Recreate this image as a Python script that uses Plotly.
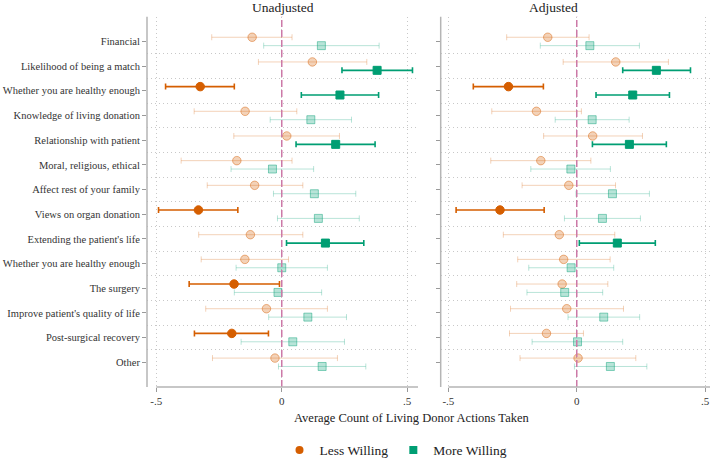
import numpy as np
import plotly.graph_objects as go

categories = ["Financial", "Likelihood of being a match", "Whether you are healthy enough",
              "Knowledge of living donation", "Relationship with patient", "Moral, religious, ethical",
              "Affect rest of your family", "Views on organ donation", "Extending the patient's life",
              "Whether you are healthy enough", "The surgery", "Improve patient's quality of life",
              "Post-surgical recovery", "Other"]

unadj_less_est = [-0.118, 0.122, -0.325, -0.146, 0.020, -0.179, -0.108, -0.332, -0.125, -0.147, -0.190, -0.061, -0.199, -0.027]
unadj_less_lo = [-0.279, -0.093, -0.463, -0.349, -0.191, -0.401, -0.297, -0.491, -0.331, -0.321, -0.369, -0.303, -0.348, -0.276]
unadj_less_hi = [0.041, 0.339, -0.189, 0.060, 0.230, 0.041, 0.084, -0.175, 0.084, 0.027, -0.009, 0.182, -0.053, 0.222]
unadj_more_est = [0.158, 0.380, 0.232, 0.116, 0.215, -0.037, 0.130, 0.146, 0.174, 0.000, -0.015, 0.104, 0.044, 0.161]
unadj_more_lo = [-0.072, 0.240, 0.078, -0.046, 0.057, -0.202, -0.033, -0.017, 0.019, -0.182, -0.189, -0.052, -0.162, -0.013]
unadj_more_hi = [0.388, 0.521, 0.386, 0.278, 0.372, 0.127, 0.295, 0.309, 0.327, 0.182, 0.159, 0.258, 0.250, 0.335]

adj_less_est = [-0.113, 0.152, -0.266, -0.157, 0.062, -0.140, -0.031, -0.299, -0.068, -0.051, -0.057, -0.039, -0.118, 0.005]
adj_less_lo = [-0.273, -0.053, -0.403, -0.331, -0.129, -0.335, -0.213, -0.470, -0.286, -0.230, -0.234, -0.258, -0.262, -0.221]
adj_less_hi = [0.048, 0.357, -0.130, 0.018, 0.256, 0.055, 0.151, -0.127, 0.148, 0.130, 0.121, 0.182, 0.026, 0.230]
adj_more_est = [0.051, 0.310, 0.218, 0.060, 0.205, -0.023, 0.139, 0.100, 0.158, -0.022, -0.047, 0.105, 0.003, 0.131]
adj_more_lo = [-0.142, 0.179, 0.075, -0.084, 0.061, -0.179, -0.003, -0.048, 0.010, -0.187, -0.194, -0.034, -0.174, -0.009]
adj_more_hi = [0.244, 0.443, 0.361, 0.204, 0.349, 0.131, 0.283, 0.248, 0.306, 0.144, 0.101, 0.245, 0.179, 0.273]

x_ticks = [-0.5, 0, 0.5]
x_ticklabels = ["-.5", "0", ".5"]
group_names = ["Less Willing", "More Willing"]

ORANGE = (213, 94, 0)
GREEN = (0, 158, 115)
FONT = "Liberation Serif, Times New Roman, serif"

def rgba(c, a):
    return "rgba(%d,%d,%d,%.2f)" % (c[0], c[1], c[2], a)

fig = go.Figure()
rows = np.arange(1, len(categories) + 1)

panels = [
    ("x", "y", [(unadj_less_est, unadj_less_lo, unadj_less_hi), (unadj_more_est, unadj_more_lo, unadj_more_hi)]),
    ("x2", "y2", [(adj_less_est, adj_less_lo, adj_less_hi), (adj_more_est, adj_more_lo, adj_more_hi)]),
]
styles = [(ORANGE, "circle", 8.5, -0.17), (GREEN, "square", 8, 0.17)]

for xa, ya, groups in panels:
    for (est, lo, hi), (col, sym, sz, off) in zip(groups, styles):
        est = np.array(est); lo = np.array(lo); hi = np.array(hi)
        sig = (lo > 0) | (hi < 0)
        for mask, faded in [(~sig, True), (sig, False)]:
            if not mask.any():
                continue
            a = 0.28 if faded else 1.0
            fig.add_trace(go.Scatter(
                x=est[mask], y=rows[mask] + off, xaxis=xa, yaxis=ya, mode="markers",
                marker=dict(symbol=sym, size=sz, color=rgba(col, a),
                            line=dict(color=rgba(col, 0.45 if faded else 1.0), width=1)),
                error_x=dict(type="data", symmetric=False, array=(hi - est)[mask],
                             arrayminus=(est - lo)[mask], color=rgba(col, 0.28 if faded else 1.0),
                             thickness=1.0 if faded else 1.6, width=3),
                showlegend=False, hoverinfo="skip"))

for name, (col, sym, sz, off) in zip(group_names, styles):
    fig.add_trace(go.Scatter(x=[None], y=[None], mode="markers", name=name,
                             marker=dict(symbol=sym, size=8, color=rgba(col, 1.0))))

ycommon = dict(range=[15, 0], domain=[1 - 392 / 466, 1 - 17 / 466], tickvals=list(rows),
               showgrid=False, zeroline=False, showline=False, ticks="outside", ticklen=4,
               tickcolor="#999999", automargin=False,
               tickfont=dict(family=FONT, size=10.5, color="#333333"),
               minor=dict(tickvals=list(rows[:-1] + 0.5), showgrid=True, griddash="1px,3px",
                          gridcolor="#c8c8c8", gridwidth=1, ticks=""))
xcommon = dict(tickvals=x_ticks, ticktext=x_ticklabels, showgrid=True, griddash="1px,3px",
               gridcolor="#c8c8c8", gridwidth=1, zeroline=False, showline=False,
               ticks="outside", ticklen=4, tickcolor="#999999", automargin=False,
               tickfont=dict(family=FONT, size=11, color="#333333"))

xr1 = [-0.537, 0.543]
xr2 = [-0.530, 0.519]
fig.update_layout(
    width=720, height=466, margin=dict(l=0, r=0, t=0, b=0),
    font=dict(family=FONT, color="#222222"),
    paper_bgcolor="white", plot_bgcolor="white",
    xaxis=dict(xcommon, domain=[147 / 720, 418 / 720], range=xr1, anchor="y"),
    xaxis2=dict(xcommon, domain=[440.7 / 720, 710 / 720], range=xr2, anchor="y2"),
    yaxis=dict(ycommon, ticktext=categories, anchor="x"),
    yaxis2=dict(ycommon, showticklabels=False, anchor="x2"),
    legend=dict(orientation="h", x=0.55, xanchor="center", y=1 - 456 / 466, yanchor="middle",
                font=dict(family=FONT, size=13.5, color="#222222"), itemwidth=30),
)

shapes = []
for xa, xr in [("x", xr1), ("x2", xr2)]:
    ya = "y" if xa == "x" else "y2"
    shapes.append(dict(type="line", xref=xa, yref=ya + " domain", x0=0, x1=0, y0=0, y1=1,
                       line=dict(color="#CC79A7", width=1.5, dash="7px,3px"), layer="above"))
    shapes.append(dict(type="line", xref=xa + " domain", yref=ya + " domain", x0=0, x1=0, y0=0, y1=1,
                       line=dict(color="#b5b5b5", width=1.5)))
    shapes.append(dict(type="line", xref=xa, yref=ya + " domain", x0=-0.5, x1=xr[1], y0=0, y1=0,
                       line=dict(color="#b5b5b5", width=1.5)))
fig.update_layout(shapes=shapes)

fig.add_annotation(text="Unadjusted", xref="x domain", yref="paper", x=0.5, y=1 - 8 / 466,
                   showarrow=False, yanchor="middle", font=dict(family=FONT, size=13.5, color="#222222"))
fig.add_annotation(text="Adjusted", xref="paper", yref="paper", x=580 / 720, y=1 - 8 / 466,
                   showarrow=False, yanchor="middle", font=dict(family=FONT, size=13.5, color="#222222"))
fig.add_annotation(text="Average Count of Living Donor Actions Taken", xref="paper", yref="paper",
                   x=411 / 720, y=1 - 423 / 466, showarrow=False, yanchor="middle",
                   font=dict(family=FONT, size=12.5, color="#222222"))

fig.write_html("out.html")
